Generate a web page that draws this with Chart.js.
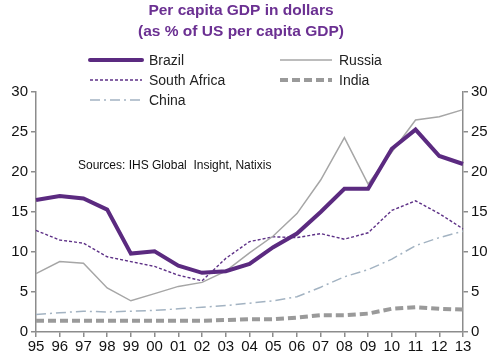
<!DOCTYPE html>
<html><head><meta charset="utf-8">
<script src="https://cdn.jsdelivr.net/npm/chart.js@4/dist/chart.umd.min.js"></script>
<style>html,body{margin:0;padding:0;background:#fff}#w{width:500px;height:364px}</style>
</head><body><div id="w"><canvas id="c" width="500" height="364"></canvas></div>
<script>
const years = ['95','96','97','98','99','00','01','02','03','04','05','06','07','08','09','10','11','12','13'];
const brazil = [16.5,17.0,16.7,15.3,9.8,10.1,8.3,7.4,7.6,8.5,10.6,12.3,15.0,17.9,17.9,22.9,25.3,22.0,21.0];
const russia = [7.3,8.8,8.6,5.5,3.9,4.8,5.7,6.2,7.6,9.9,12.0,14.8,19.0,24.3,18.5,22.5,26.5,26.9,27.8];
const southAfrica = [12.7,11.5,11.1,9.4,8.8,8.2,7.1,6.4,9.2,11.3,11.9,11.8,12.3,11.6,12.4,15.2,16.4,14.8,12.9];
const india = [1.4,1.4,1.4,1.4,1.4,1.4,1.4,1.4,1.5,1.6,1.6,1.8,2.1,2.1,2.3,2.9,3.1,2.9,2.8];
const china = [2.2,2.4,2.6,2.5,2.6,2.7,2.9,3.1,3.3,3.6,3.9,4.4,5.6,6.9,7.8,9.1,10.8,11.8,12.6];
const yTicks = [0,5,10,15,20,25,30];

const FONT = "'Liberation Sans', Arial, sans-serif";
const AX = '#8c8c8c';

const styles = {
  Brazil: {color:'#5b2a80', width:4, dash:[]},
  Russia: {color:'#a6a6a6', width:1.5, dash:[]},
  'South Africa': {color:'#5e3187', width:1.4, dash:[3,2]},
  India: {color:'#9a9a9a', width:4, dash:[8,4]},
  China: {color:'#a3b3c2', width:1.5, dash:[10,4,2,4]}
};
function ds(label, data){
  const s = styles[label];
  return {label, data, borderColor:s.color, borderWidth:s.width, borderDash:s.dash,
    pointRadius:0, tension:0, fill:false, yAxisID:'y'};
}

const deco = {
  id:'deco',
  afterDraw(chart){
    const ctx = chart.ctx;
    ctx.save();
    ctx.fillStyle = '#6b3092';
    ctx.font = 'bold 15.5px ' + FONT;
    ctx.textAlign = 'center'; ctx.textBaseline = 'middle';
    ctx.fillText('Per capita GDP in dollars', 241, 11);
    ctx.fillText('(as % of US per capita GDP)', 241, 32);
    const items = [
      ['Brazil', 90, 60], ['Russia', 280, 60],
      ['South Africa', 90, 80], ['India', 280, 80],
      ['China', 90, 100]
    ];
    ctx.font = '14px ' + FONT;
    ctx.textAlign = 'left';
    for (const [lab, x, y] of items){
      const s = styles[lab];
      ctx.beginPath();
      ctx.strokeStyle = s.color; ctx.lineWidth = s.width; ctx.setLineDash(s.dash);
      ctx.lineCap = lab === 'Brazil' ? 'round' : 'butt';
      ctx.moveTo(x, y); ctx.lineTo(x + 52, y); ctx.stroke();
      ctx.setLineDash([]);
      ctx.fillStyle = '#222';
      ctx.fillText(lab, x + 59, y + 1);
    }
    ctx.font = '12px ' + FONT;
    ctx.fillStyle = '#111';
    ctx.fillText('Sources: IHS Global  Insight, Natixis', 78, 166);
    ctx.restore();
  }
};

const yScale = (pos, w) => ({
  position: pos, min:0, max:30,
  afterBuildTicks: s => { s.ticks = yTicks.map(v => ({value:v})); },
  afterFit: s => { s.width = w; },
  border:{display:true, color:AX, width:1.5},
  grid:{display:true, drawOnChartArea:false, drawTicks:true, tickLength:5, color:AX, lineWidth:1.5},
  ticks:{color:'#111', font:{family:FONT, size:15}, padding:3}
});

new Chart(document.getElementById('c'), {
  type:'line',
  data:{labels:years, datasets:[
    ds('Brazil', brazil), ds('Russia', russia), ds('South Africa', southAfrica),
    ds('India', india), ds('China', china)
  ]},
  options:{
    responsive:false, animation:false, devicePixelRatio:1,
    layout:{padding:{top:92, left:0, right:0, bottom:0}},
    plugins:{legend:{display:false}, title:{display:false}, tooltip:{enabled:false}},
    scales:{
      x:{
        offset:false,
        afterFit: s => { s.height = 32; },
        border:{display:true, color:AX, width:1.5},
        grid:{display:true, drawOnChartArea:false, drawTicks:true, tickLength:5, color:AX, lineWidth:1.5, offset:false},
        ticks:{color:'#111', font:{family:FONT, size:15}, padding:1, maxRotation:0, autoSkip:false}
      },
      y: yScale('left', 36),
      y2: yScale('right', 37)
    }
  },
  plugins:[deco]
});
</script></body></html>
